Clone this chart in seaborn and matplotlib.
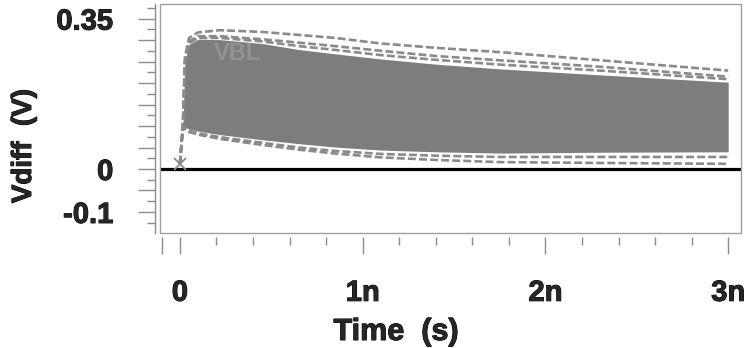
import numpy as np
import pandas as pd
import matplotlib
matplotlib.use("Agg")
import matplotlib.pyplot as plt
import matplotlib.patheffects as pe
from matplotlib.patches import Rectangle
import seaborn as sns

# Simulation time (ns) and the envelope of the differential bit-line voltage traces (V)
time_ns = [0.0, 0.016, 0.028, 0.05, 0.1, 0.22, 0.45, 0.65, 0.85, 1.1, 1.4, 1.75, 2.3, 3.0]
upper_outer = [0.012, 0.098, 0.262, 0.305, 0.318, 0.323, 0.319, 0.312, 0.305, 0.292, 0.282, 0.272, 0.253, 0.229]
upper_inner = [0.012, 0.098, 0.255, 0.297, 0.309, 0.309, 0.302, 0.294, 0.286, 0.275, 0.263, 0.253, 0.238, 0.215]
upper_mid = [0.012, 0.098, 0.252, 0.293, 0.305, 0.305, 0.297, 0.286, 0.277, 0.265, 0.254, 0.243, 0.229, 0.209]
band_top = [0.012, 0.098, 0.250, 0.290, 0.302, 0.301, 0.292, 0.278, 0.268, 0.256, 0.244, 0.233, 0.219, 0.202]
band_bottom = [0.012, 0.098, 0.097, 0.093, 0.088, 0.080, 0.068, 0.059, 0.051, 0.044, 0.040, 0.037, 0.039, 0.040]
lower_inner = [0.012, 0.098, 0.094, 0.089, 0.083, 0.074, 0.061, 0.050, 0.042, 0.035, 0.031, 0.028, 0.028, 0.028]
lower_outer = [0.012, 0.098, 0.092, 0.086, 0.080, 0.070, 0.056, 0.045, 0.036, 0.027, 0.021, 0.016, 0.014, 0.012]

trace_name = "VBL"
x_tick_values = [0, 1, 2, 3]
x_tick_labels = ["0", "1n", "2n", "3n"]
y_tick_values = [0.35, 0.0, -0.1]
y_tick_labels = ["0.35", "0", "-0.1"]

sns.set_theme(style="ticks")
plt.rcParams["font.family"] = ["Liberation Sans", "DejaVu Sans"]
plt.rcParams["font.weight"] = "bold"

heavy = [pe.withStroke(linewidth=0.7, foreground="black")]

fig = plt.figure(figsize=(7.44, 3.48), dpi=100)
ax = fig.add_axes([160 / 744, 115 / 348, 581 / 744, 229 / 348])

# dense band of overlapping transient traces
ax.fill_between(time_ns, band_bottom, band_top, color="#7d7d7d", lw=0, zorder=2)

# outlying traces drawn individually
outliers = [upper_outer, upper_inner, upper_mid, lower_inner, lower_outer]
edge = pd.DataFrame({
    "time": time_ns * len(outliers),
    "vdiff": sum(outliers, []),
    "trace": sum([[k] * len(time_ns) for k in range(len(outliers))], []),
})
sns.lineplot(data=edge, x="time", y="vdiff", units="trace", estimator=None,
             color="#8a8a8a", lw=1.9, linestyle=(0, (3, 1.2)), legend=False,
             ax=ax, zorder=3)

# start-of-trace marker
ax.plot([time_ns[0]], [upper_outer[0]], marker="x", ms=9, mew=1.3,
        color="#8a8a8a", ls="none", zorder=5)

ax.text(0.317, 0.268, trace_name, color="#939393", fontsize=17,
        fontweight="bold", ha="center", va="center", zorder=3)

ax.axhline(0, color="black", lw=2.3, zorder=4)

ax.set_xlim(-0.109, 3.07)
ax.set_ylim(-0.149, 0.384)
ax.set_xlabel("")
ax.set_ylabel("")

# frame around the plotting area
ax.add_patch(Rectangle((0, 0), 1, 1, transform=ax.transAxes, fill=False,
                       ec="#a0a0a0", lw=1, clip_on=False, zorder=6))

for s in ("top", "right"):
    ax.spines[s].set_visible(False)
ax.spines["left"].set_position(("outward", 3.6))
ax.spines["left"].set_color("#8c8c8c")
ax.spines["left"].set_linewidth(1)
ax.spines["bottom"].set_position(("outward", 3))
ax.spines["bottom"].set_color("none")

# x ticks
ax.set_xticks([-0.1] + x_tick_values, labels=[""] + x_tick_labels)
ax.set_xticks([k * 0.2 for k in range(1, 15) if k % 5], minor=True)
ax.tick_params(axis="x", which="major", length=12, width=1, color="#8c8c8c",
               pad=18, labelsize=21, direction="out")
ax.tick_params(axis="x", which="minor", length=6, width=1, color="#8c8c8c",
               direction="out")

# y ticks: long ticks every 0.05, short ones in between
y_major = [round(-0.1 + 0.05 * k, 3) for k in range(10)]
y_lab = [y_tick_labels[y_tick_values.index(v)] if v in y_tick_values else ""
         for v in y_major]
ax.set_yticks(y_major, labels=y_lab)
ax.set_yticks([round(-0.125 + 0.05 * k, 3) for k in range(11)], minor=True)
ax.tick_params(axis="y", which="major", length=12, width=1, color="#8c8c8c",
               pad=18, labelsize=21, direction="out")
ax.tick_params(axis="y", which="minor", length=6, width=1, color="#8c8c8c",
               direction="out")
for lab in ax.get_xticklabels() + ax.get_yticklabels():
    lab.set_fontweight("bold")
    lab.set_path_effects(heavy)

fig.text(24 / 744, 1 - 146 / 348, "Vdiff  (V)", rotation=90, ha="center",
         va="center", fontsize=20, fontweight="bold", path_effects=heavy)
fig.text(396 / 744, 1 - 332 / 348, "Time  (s)", ha="center", va="center",
         fontsize=22, fontweight="bold", path_effects=heavy)

fig.savefig("out.png", dpi=100)
